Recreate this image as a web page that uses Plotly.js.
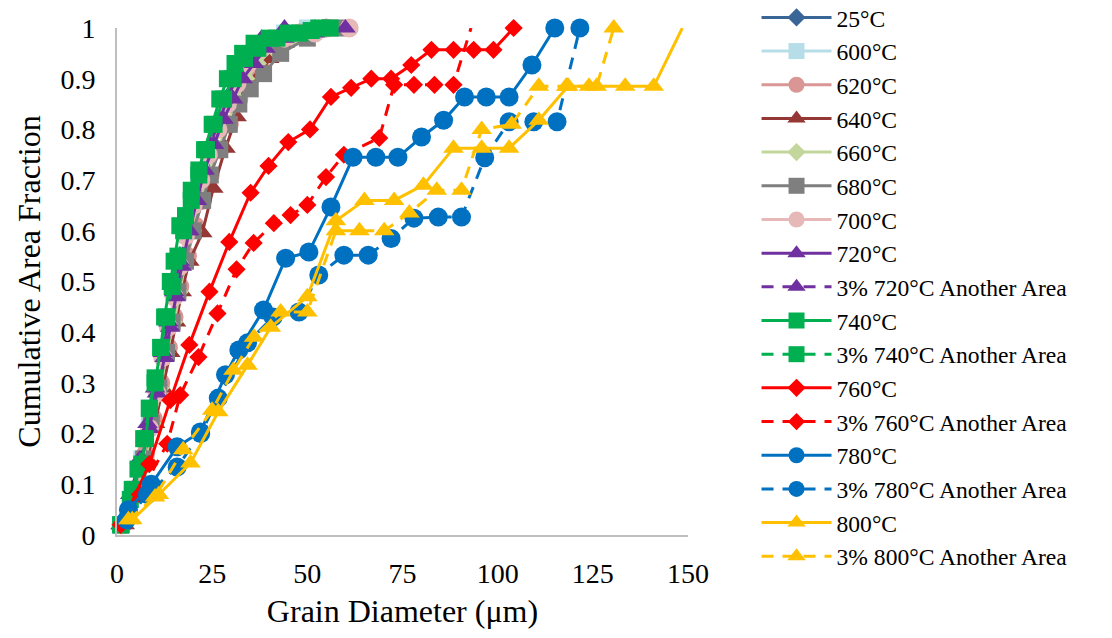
<!DOCTYPE html>
<html><head><meta charset="utf-8">
<script src="https://cdn.plot.ly/plotly-3.0.1.min.js"></script>
<style>html,body{margin:0;padding:0;background:#fff}#chart{width:1112px;height:638px}</style>
</head><body><div id="chart"></div>
<script>
// ---- data (grain diameter in µm, cumulative area fraction) ----
const names = ["25°C","600°C","620°C","640°C","660°C","680°C","700°C","720°C",
  "3% 720°C Another Area","740°C","3% 740°C Another Area","760°C","3% 760°C Another Area",
  "780°C","3% 780°C Another Area","800°C","3% 800°C Another Area"];

const x25  = [1, 4.5, 7, 9, 11, 13, 14.5, 16, 17.5, 19.5, 21.5, 23.5, 25.5, 28, 30.5, 33, 36, 40, 45, 52];
const y25  = [0.02, 0.09, 0.16, 0.23, 0.3, 0.37, 0.43, 0.49, 0.55, 0.61, 0.67, 0.72, 0.77, 0.82, 0.87, 0.91, 0.94, 0.97, 0.99, 1.0];
const x600 = [1, 4, 6.5, 8.5, 10.5, 12.5, 14, 15.5, 17, 19, 21, 23, 25, 27.5, 30, 32.5, 35.5, 39, 44, 50];
const y600 = [0.02, 0.08, 0.15, 0.22, 0.29, 0.36, 0.42, 0.48, 0.54, 0.6, 0.66, 0.71, 0.76, 0.81, 0.86, 0.9, 0.94, 0.97, 0.99, 1.0];
const x620 = [1.5, 5, 7.5, 9.5, 11.5, 13.5, 15, 16.5, 18.5, 20.5, 22.5, 24.5, 27, 29.5, 32, 35, 38, 42, 48, 55];
const y620 = [0.02, 0.09, 0.16, 0.23, 0.3, 0.37, 0.43, 0.49, 0.55, 0.61, 0.66, 0.71, 0.76, 0.81, 0.86, 0.9, 0.94, 0.97, 0.99, 1.0];
const x640 = [2, 5.5, 8, 10, 12, 14, 15.5, 17, 19, 22.4, 25.3, 28.5, 31.4, 34.3, 37.2, 40, 44, 49, 54];
const y640 = [0.02, 0.08, 0.15, 0.22, 0.29, 0.36, 0.42, 0.48, 0.54, 0.596, 0.684, 0.763, 0.825, 0.876, 0.903, 0.94, 0.97, 0.99, 1.0];
const x660 = [1.5, 5, 7.5, 9.5, 11.5, 13, 15, 16.5, 18, 20, 22, 24, 26.5, 29, 31.5, 34, 37, 41, 46, 53];
const y660 = [0.02, 0.08, 0.15, 0.22, 0.29, 0.36, 0.42, 0.48, 0.54, 0.6, 0.66, 0.71, 0.76, 0.81, 0.86, 0.9, 0.93, 0.96, 0.98, 1.0];
const x680 = [1, 4.5, 7, 9, 11, 13, 14.5, 16, 18, 20, 22.5, 24.5, 27, 29.5, 32, 35, 38.5, 43, 50, 58];
const y680 = [0.02, 0.09, 0.15, 0.22, 0.29, 0.36, 0.42, 0.48, 0.54, 0.6, 0.66, 0.71, 0.76, 0.81, 0.85, 0.88, 0.91, 0.95, 0.98, 1.0];
const x700 = [1, 4, 6.5, 8.5, 10.5, 12, 13.5, 15, 16.5, 18, 20, 22, 24, 26.5, 29, 31.5, 34.5, 38, 44, 52, 61];
const y700 = [0.02, 0.08, 0.14, 0.21, 0.28, 0.35, 0.41, 0.47, 0.53, 0.59, 0.65, 0.7, 0.75, 0.8, 0.85, 0.89, 0.93, 0.96, 0.98, 0.99, 1.0];
const x720 = [1, 4, 6.5, 8.5, 10.5, 12.5, 14, 15.5, 17, 19, 21, 23, 25.5, 28, 30.5, 33, 36, 39, 44, 52, 60];
const y720 = [0.02, 0.08, 0.15, 0.21, 0.28, 0.35, 0.41, 0.47, 0.53, 0.6, 0.66, 0.72, 0.77, 0.82, 0.86, 0.9, 0.93, 0.96, 0.98, 0.99, 1.0];
const x720b = [1, 3.5, 6, 8, 10, 12, 13.5, 15, 16.5, 18.5, 20.5, 22.5, 24.5, 27, 29.5, 32, 35, 38, 44];
const y720b = [0.02, 0.08, 0.15, 0.22, 0.29, 0.36, 0.42, 0.48, 0.54, 0.6, 0.66, 0.72, 0.77, 0.82, 0.87, 0.91, 0.95, 0.98, 1.0];
const x740 = [1, 4, 6.5, 7.5, 8.5, 10, 11.5, 12.5, 14, 15, 16.5, 18, 19.5, 21.5, 23, 25, 27, 29, 31, 33, 36, 40, 45, 51, 56];
const y740 = [0.02, 0.09, 0.14, 0.19, 0.25, 0.3, 0.37, 0.43, 0.5, 0.54, 0.61, 0.63, 0.68, 0.72, 0.76, 0.81, 0.86, 0.9, 0.93, 0.95, 0.97, 0.98, 0.99, 0.995, 1.0];
const x740b = [1, 3.5, 5.5, 7, 8.5, 10, 11.5, 13, 14.5, 16, 17.5, 19.5, 21.5, 23.5, 25.5, 28, 30.5, 33.5, 37, 42, 48, 53];
const y740b = [0.02, 0.07, 0.13, 0.19, 0.25, 0.31, 0.37, 0.43, 0.49, 0.55, 0.6, 0.66, 0.71, 0.76, 0.81, 0.86, 0.9, 0.94, 0.96, 0.98, 0.99, 1.0];
const x760 = [1.5, 8.5, 14, 19, 24.3, 29.5, 35.1, 39.8, 45, 50.7, 56.2, 61.5, 66.8, 72, 77.3, 82.6, 88.4, 93.7, 98.9, 104.2];
const y760 = [0.025, 0.14, 0.266, 0.375, 0.48, 0.578, 0.675, 0.728, 0.775, 0.8, 0.864, 0.882, 0.9, 0.9, 0.927, 0.957, 0.957, 0.957, 0.957, 1.0];
const x760b = [1, 6, 13.2, 16.6, 21.4, 26.4, 31.4, 35.9, 41.2, 45.6, 50, 54.9, 59.6, 68.9, 72.8, 78, 83.4, 88.4, 93];
const y760b = [0.02, 0.08, 0.18, 0.276, 0.351, 0.437, 0.524, 0.576, 0.615, 0.631, 0.651, 0.706, 0.75, 0.783, 0.888, 0.888, 0.888, 0.888, 1.0];
const x780 = [3, 9, 15.8, 21.9, 28.5, 32, 38.5, 44.3, 50.4, 56.2, 62, 68, 73.8, 80, 85.8, 91.3, 97, 103, 109, 115];
const y780 = [0.05, 0.1, 0.174, 0.203, 0.316, 0.365, 0.444, 0.546, 0.558, 0.647, 0.745, 0.745, 0.745, 0.785, 0.818, 0.864, 0.864, 0.864, 0.927, 1.0];
const x780b = [2.5, 8, 15.8, 22, 26.6, 34.3, 41, 47.8, 53, 59.6, 66, 72, 78, 84.4, 90.5, 96.6, 103, 109.5, 115.6, 121.6];
const y780b = [0.03, 0.08, 0.134, 0.2, 0.27, 0.379, 0.43, 0.44, 0.513, 0.552, 0.552, 0.585, 0.625, 0.627, 0.627, 0.744, 0.815, 0.815, 0.815, 1.0];
const x800 = [4, 11, 19.3, 26.6, 34.3, 40.4, 50, 57.5, 65, 72.8, 80.5, 88.4, 95.8, 103, 110.8, 118.5, 124, 133.5, 141, 148.5];
const y800 = [0.03, 0.08, 0.142, 0.243, 0.335, 0.41, 0.47, 0.62, 0.66, 0.66, 0.69, 0.763, 0.763, 0.763, 0.818, 0.885, 0.885, 0.885, 0.885, 1.0];
const x800b = [3, 10, 17.4, 25, 30.6, 36, 43, 50, 57.5, 63.7, 70.2, 76.8, 84, 90.5, 95.8, 103.7, 110.8, 118, 126, 130.5];
const y800b = [0.03, 0.075, 0.168, 0.246, 0.325, 0.39, 0.44, 0.44, 0.6, 0.6, 0.6, 0.635, 0.68, 0.68, 0.8, 0.81, 0.885, 0.885, 0.885, 1.0];

const xs = [x25,x600,x620,x640,x660,x680,x700,x720,x720b,x740,x740b,x760,x760b,x780,x780b,x800,x800b];
const ys = [y25,y600,y620,y640,y660,y680,y700,y720,y720b,y740,y740b,y760,y760b,y780,y780b,y800,y800b];

// ---- styles ----
const colors = ["#3A6597","#B7DEE8","#D99694","#953735","#C3D69B","#7F7F7F","#E6B9B8","#7030A0",
  "#7030A0","#00B050","#00B050","#FF0000","#FF0000","#0070C0","#0070C0","#FFC000","#FFC000"];
const symbols = ["diamond","square","circle","triangle-up","diamond","square","circle","triangle-up",
  "triangle-up","square","square","diamond","diamond","circle","circle","triangle-up","triangle-up"];
const dashed = [0,0,0,0,0,0,0,0,1,0,1,0,1,0,1,0,1];
const symSize = {"diamond":14,"square":17,"circle":19,"triangle-up":18};
// series whose final point has no visible marker in the original
const hideLast = [0,0,0,0,0,0,0,0,0,0,0,0,1,0,0,1,0];

const traces = names.map((n,i)=>{
  const s = symSize[symbols[i]];
  const sizes = xs[i].map((_,k)=> (hideLast[i] && k===xs[i].length-1) ? 0 : s);
  return {
    type:"scatter", mode:"lines+markers", name:n, x:xs[i], y:ys[i],
    line:{color:colors[i], width:3, dash: dashed[i] ? "12px,9px" : "solid"},
    marker:{symbol:symbols[i], color:colors[i], size:sizes, opacity:1, line:{width:0}},
    cliponaxis:false
  };
});

const fontFam = "Liberation Serif, Times New Roman, serif";
const layout = {
  width:1112, height:638,
  margin:{l:117, r:424, t:28, b:103, autoexpand:false},
  paper_bgcolor:"#fff", plot_bgcolor:"#fff",
  font:{family:fontFam, color:"#000", size:26},
  showlegend:true,
  legend:{x:1.12, xanchor:"left", y:1.064, yanchor:"top", maxheight:700, itemwidth:70,
          font:{family:fontFam, size:23.6, color:"#000"},
          bgcolor:"rgba(0,0,0,0)", itemsizing:"trace", tracegroupgap:0},
  xaxis:{range:[0,150], dtick:25, tick0:0, showgrid:false, zeroline:false, showline:true,
         linecolor:"#BFBFBF", linewidth:2, ticks:"", ticklabelstandoff:12,
         tickfont:{family:fontFam, size:28, color:"#000"},
         title:{text:"Grain Diameter (μm)", font:{family:fontFam, size:32, color:"#000"}, standoff:12}},
  yaxis:{range:[0,1], dtick:0.1, tick0:0, showgrid:false, zeroline:false, showline:true,
         linecolor:"#BFBFBF", linewidth:2, ticks:"", ticklabelstandoff:14,
         tickfont:{family:fontFam, size:28, color:"#000"},
         title:{text:"Cumulative Area Fraction", font:{family:fontFam, size:32, color:"#000"}, standoff:10}}
};

Plotly.newPlot("chart", traces, layout, {staticPlot:true, displayModeBar:false});
</script></body></html>
